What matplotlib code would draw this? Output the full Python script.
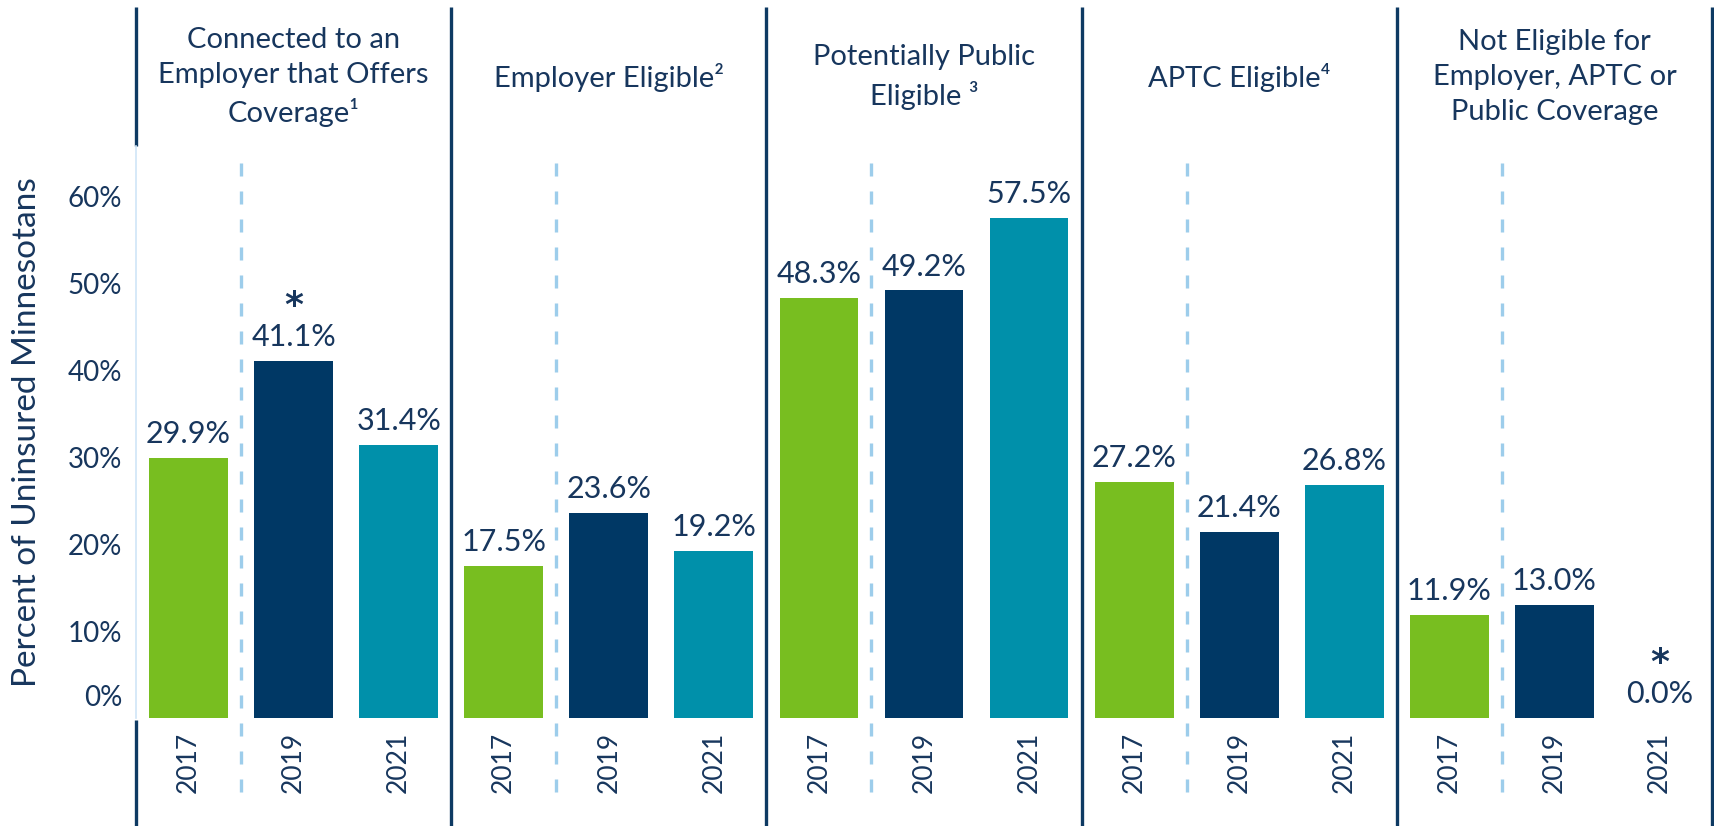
import matplotlib
matplotlib.use("Agg")
import matplotlib.pyplot as plt
import matplotlib.transforms as mtransforms
import numpy as np

plt.rcParams['font.family'] = ['Lato', 'DejaVu Sans']

groups = ["Connected to an\nEmployer that Offers\nCoverage\u00b9",
          "Employer Eligible\u00b2",
          "Potentially Public\nEligible \u00b3",
          "APTC Eligible\u2074",
          "Not Eligible for\nEmployer, APTC or\nPublic Coverage"]
years = ["2017", "2019", "2021"]
values_2017 = [29.9, 17.5, 48.3, 27.2, 11.9]
values_2019 = [41.1, 23.6, 49.2, 21.4, 13.0]
values_2021 = [31.4, 19.2, 57.5, 26.8, 0.0]
significant_2019 = [True, False, False, False, False]
significant_2021 = [False, False, False, False, True]
yticks = [0, 10, 20, 30, 40, 50, 60]
ytick_labels = ["0%", "10%", "20%", "30%", "40%", "50%", "60%"]
ylabel = "Percent of Uninsured Minnesotans"

series = [values_2017, values_2019, values_2021]
sig = [[False] * 5, significant_2019, significant_2021]
colors = ['#78BE20', '#003865', '#0090AA']
text_color = '#17365D'
sep_color = '#0E3A63'
dash_color = '#9DCDEB'

W, H = 1715, 826
fig = plt.figure(figsize=(W / 100, H / 100), dpi=100)
ax = fig.add_axes([136 / W, 108 / H, (1712 - 136) / W, (718 - 146) / H])

ng = len(groups)
ny = len(years)
for yi, vals in enumerate(series):
    xs = np.arange(ng) * ny + yi
    ax.bar(xs, vals, width=0.75, color=colors[yi], edgecolor='none', zorder=3)
    for x, v, s in zip(xs, vals, sig[yi]):
        ax.annotate(f"{v:.1f}%", (x, v), xytext=(0, 7), textcoords='offset points',
                    ha='center', va='bottom', fontsize=22, color=text_color, zorder=4)
        if s:
            ax.annotate("*", (x, v), xytext=(0, 27), textcoords='offset points',
                        ha='center', va='bottom', fontsize=26, fontweight='bold',
                        family='DejaVu Sans', color=text_color, zorder=4)

ax.set_xlim(-0.5, ng * ny - 0.5)
ax.set_ylim(0, 65.8)

blend = mtransforms.blended_transform_factory(ax.transData, ax.transAxes)
top_frac = (718 - 7) / 572
bot_frac = (718 - 826) / 572

# group separators
for g in range(1, ng + 1):
    x = g * ny - 0.5
    ax.plot([x, x], [bot_frac, top_frac], transform=blend, color=sep_color,
            lw=2.4, clip_on=False, solid_capstyle='butt', zorder=5)
x0 = -0.5
ax.plot([x0, x0], [1.0, top_frac], transform=blend, color=sep_color, lw=2.4,
        clip_on=False, solid_capstyle='butt', zorder=5)
ax.plot([x0, x0], [bot_frac, -0.003], transform=blend, color=sep_color, lw=2.4,
        clip_on=False, solid_capstyle='butt', zorder=5)
ax.plot([x0, x0], [0, 1.0], transform=blend, color='#CFE5F7', lw=1.2,
        clip_on=False, zorder=5)

# dashed dividers between first and second year
for g in range(ng):
    x = g * ny + 0.5
    ax.plot([x, x], [(718 - 792) / 572, (718 - 162) / 572], transform=blend,
            color=dash_color, lw=2.4, ls=(0, (3.9, 4.5)), clip_on=False, zorder=2)

# group titles
for g, name in enumerate(groups):
    ax.text(g * ny + 1, (718 - 77) / 572, name, transform=blend, ha='center',
            va='center', fontsize=21, color=text_color, linespacing=1.42)

# axes styling
for sp in ax.spines.values():
    sp.set_visible(False)
xt = np.arange(ng * ny)
ax.set_xticks(xt)
ax.set_xticklabels(years * ng, rotation=90, fontsize=19, color=text_color)
ax.tick_params(axis='x', length=0, pad=10)
ax.set_yticks(yticks)
ax.set_yticklabels(ytick_labels, fontsize=20, color=text_color)
ax.tick_params(axis='y', length=0, pad=10)
lab0 = ax.get_yticklabels()[0]
lab0.set_transform(lab0.get_transform() + mtransforms.ScaledTranslation(0, 23 / 100, fig.dpi_scale_trans))
fig.text(27 / W, 1 - 432 / H, ylabel, rotation=90, ha='center', va='center',
         fontsize=24, color=text_color)

fig.savefig("out.png", dpi=100, facecolor='white')
